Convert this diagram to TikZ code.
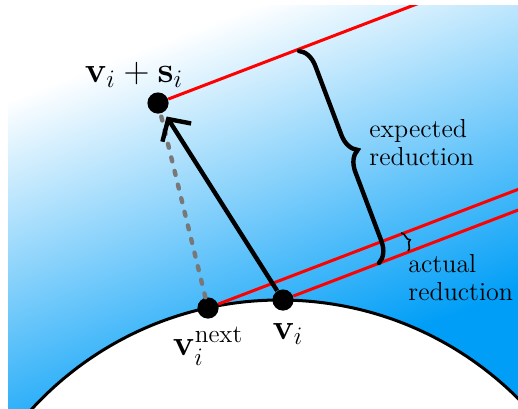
\RequirePackage{fix-cm}
\documentclass[tikz,border=0pt]{standalone}
\usepackage{amsmath}
\usepackage{xcolor}
\usepackage{tikz}
\usetikzlibrary{arrows.meta, calc, positioning, decorations.pathreplacing}
\definecolor{skyfill}{RGB}{0,158,247}
\definecolor{levelred}{RGB}{255,0,0}
\definecolor{stepgray}{RGB}{120,120,120}

\begin{document}
\begin{tikzpicture}[x=0.5pt, y=-0.5pt,
  dot/.style={circle, fill=black, inner sep=0pt, minimum size=10.6pt},
  level/.style={levelred, line width=1.5pt},
  boundary/.style={draw=black, fill=white, line width=1.5pt},
  steparrow/.style={-{Straight Barb[length=8pt, width=17pt]}, line width=2.2pt, shorten >=2.5pt},
  stepdash/.style={stepgray, line width=2.2pt, line cap=round, dash pattern=on 2pt off 5pt},
  ptlabel/.style={font=\fontsize{18}{20}\selectfont, inner sep=0pt},
  note/.style={font=\fontsize{13}{14}\selectfont, align=left, inner sep=0pt},
  bigbrace/.style={decorate, decoration={brace, amplitude=10pt}, line width=2.2pt, line cap=round},
  smallbrace/.style={decorate, decoration={brace, amplitude=3pt}, line width=0.8pt}]
  \useasboundingbox (0,0) rectangle (518,408);
  % model levels fade from white to blue, cut to the frame
  \begin{scope}
    \clip (8,5) rectangle (518,408);
    \begin{scope}[transform canvas={shift={(8,100)}, rotate=20.9}]
      \fill[white] (-400,-300) rectangle (900,2);
      \fill[skyfill] (-400,358) rectangle (900,800);
      \shade[top color=white, bottom color=skyfill] (-400,0) rectangle (900,360);
    \end{scope}
    \draw[boundary] (280,637) circle (337);
  \end{scope}

  \node[dot] (vs) at (158,103) {};
  \node[dot] (vnext) at (208,308) {};
  \node[dot] (vi) at (283,300) {};

  \coordinate (vsEnd) at ($(vs)+(400,-153)$);
  \coordinate (vnextEnd) at ($(vnext)+(400,-153)$);
  \coordinate (viEnd) at ($(vi)+(400,-153)$);
  \begin{scope}
    \clip (8,5) rectangle (518,408);
    \draw[level] (vs) -- (vsEnd);
    \draw[level] (vnext) -- (vnextEnd);
    \draw[level] (vi) -- (viEnd);
  \end{scope}

  \draw[stepdash] (vnext) -- (vs);
  \draw[steparrow] (vi) -- (vs);

  \coordinate (expTop) at (299,51);
  \coordinate (expBot) at (379,263);
  \draw[bigbrace] (expTop) -- (expBot);
  \coordinate (actTop) at (401,233);
  \coordinate (actBot) at (408,251);
  \draw[smallbrace] (actTop) -- (actBot);

  \node[ptlabel, above=2pt of vs, xshift=-12pt] (vslbl) {$\mathbf{v}_i+\mathbf{s}_i$};
  \node[ptlabel, below=4pt of vnext] (vnextlbl) {$\mathbf{v}_i^{\text{next}}$};
  \node[ptlabel, below=6pt of vi, xshift=2.5pt] (vilbl) {$\mathbf{v}_i$};
  \node[note, anchor=west] (expnote) at (369,143) {expected\\reduction};
  \node[note, anchor=west] (actnote) at (408,278) {actual\\reduction};
\end{tikzpicture}
\end{document}
